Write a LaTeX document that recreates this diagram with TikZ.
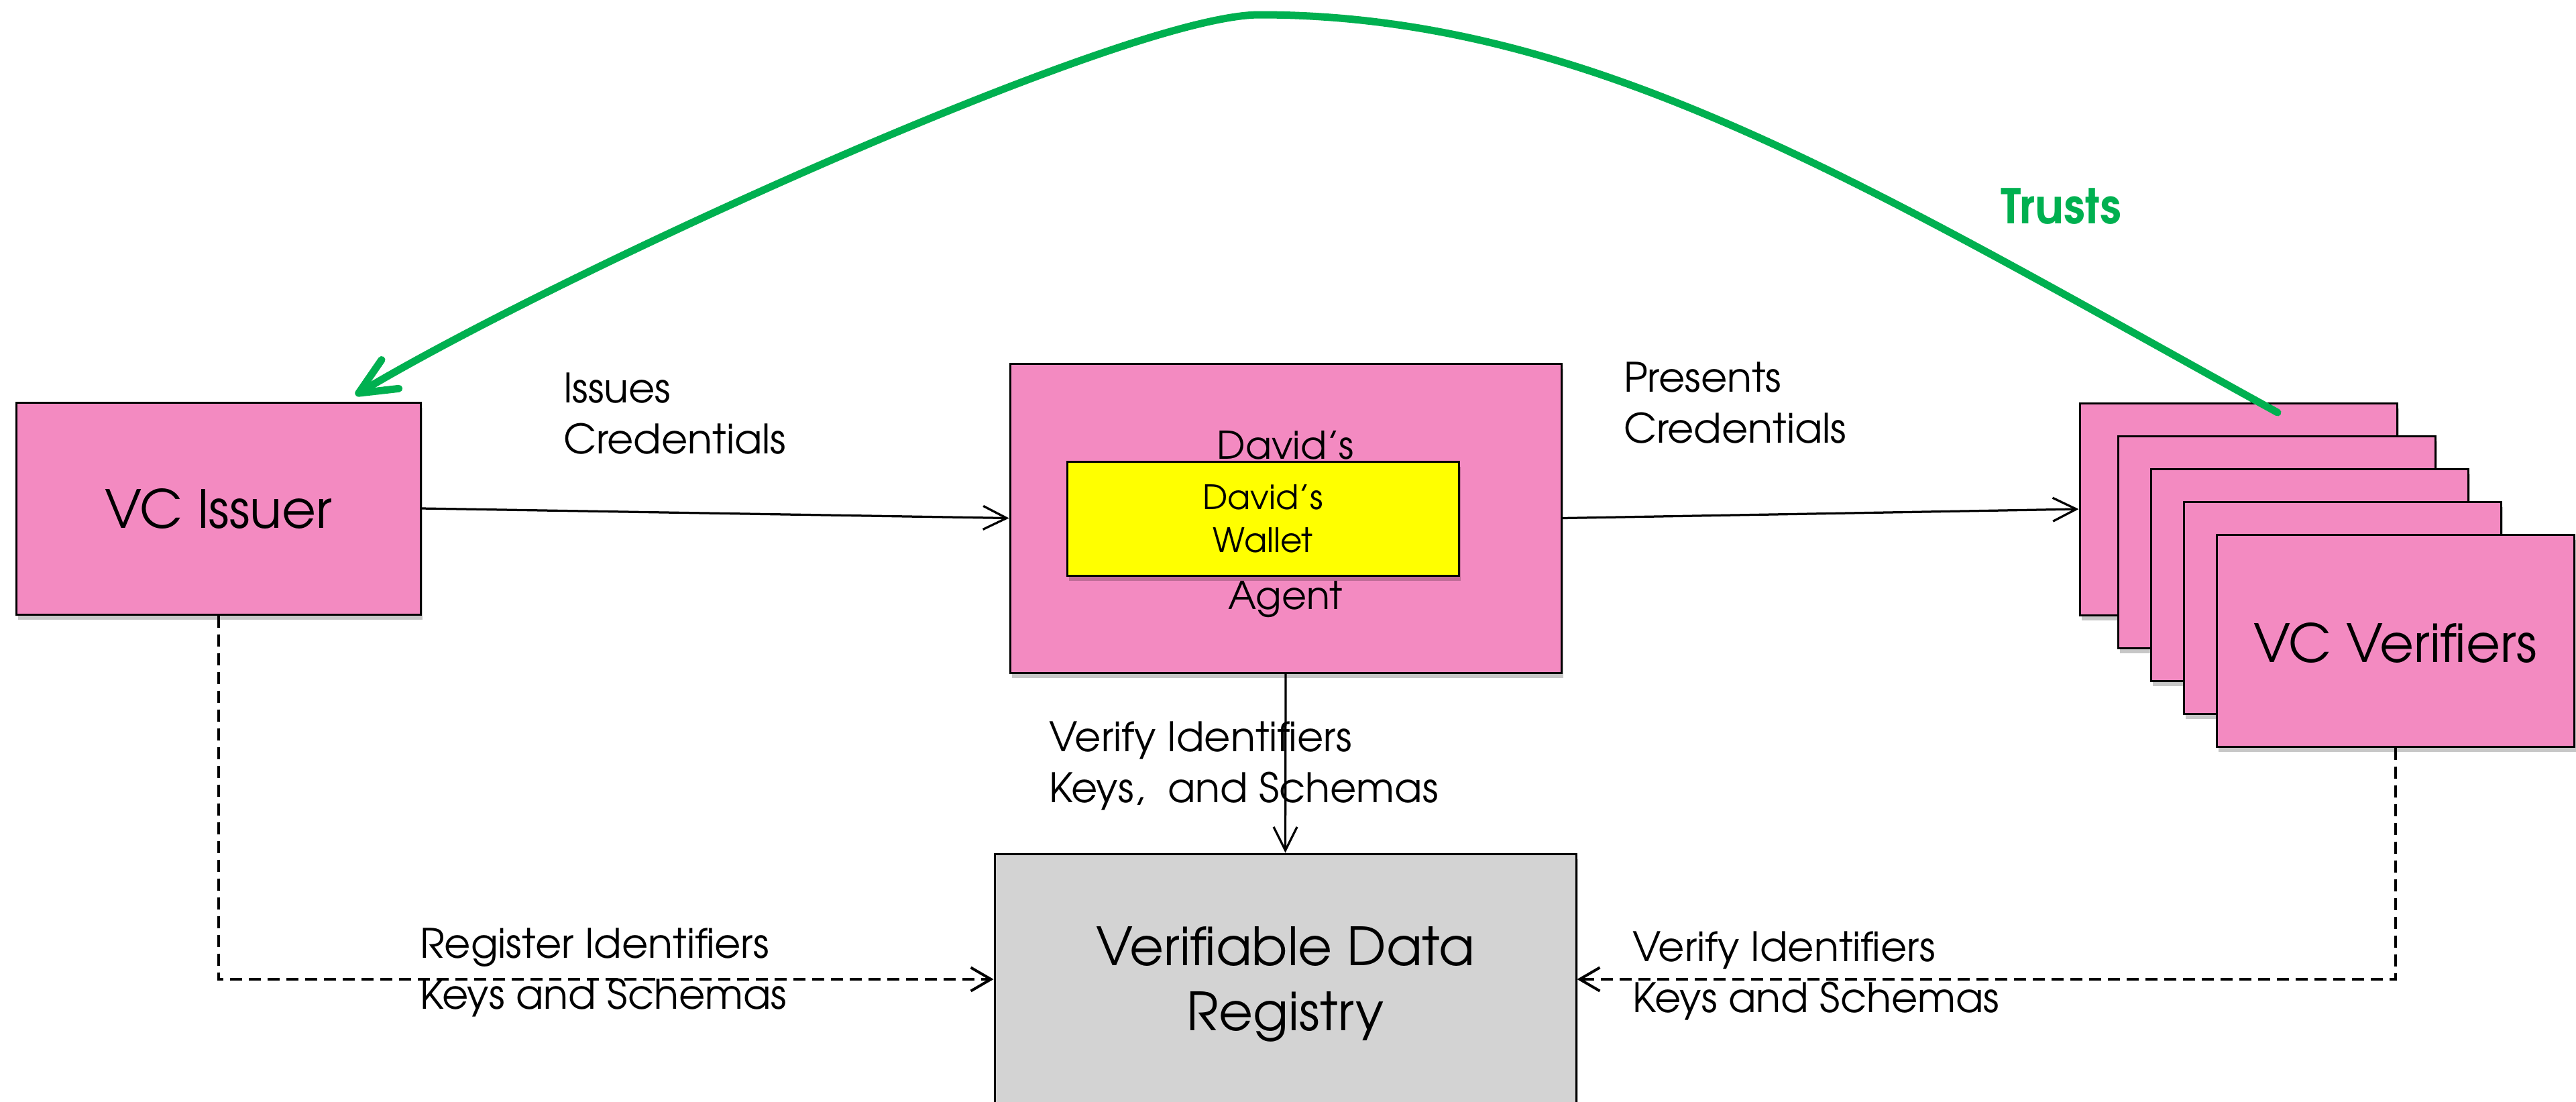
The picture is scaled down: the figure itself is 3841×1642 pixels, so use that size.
\documentclass[tikz,border=0pt]{standalone}
\usepackage{fontspec}
\setmainfont{TeX Gyre Adventor}
\usetikzlibrary{arrows.meta,fit,shadows}

\definecolor{boxpink}{RGB}{243,138,193}
\definecolor{walletyellow}{RGB}{255,255,0}
\definecolor{registrygray}{RGB}{211,211,211}
\definecolor{trustgreen}{RGB}{0,176,80}

\newcommand{\bigtext}{\fontsize{15.7}{19.4}\selectfont}
\newcommand{\labeltext}{\fontsize{12.1}{15.1}\selectfont}
\newcommand{\agenttext}{\fontsize{11.4}{13.7}\selectfont}
\newcommand{\wallettext}{\fontsize{10}{12.8}\selectfont}

\begin{document}
\begin{tikzpicture}[x=0.2pt,y=-0.2pt,
  box/.style={draw=black, line width=0.6pt, inner sep=0pt,
    drop shadow={shadow xshift=0.5pt, shadow yshift=-1.5pt, fill=black, opacity=0.22}},
  pinkbox/.style={box, fill=boxpink},
  boxtext/.style={inner sep=0pt, align=center},
  flow/.style={draw=black, line width=0.65pt, -{Straight Barb[length=7pt,width=7pt]}},
  dflow/.style={draw=black, line width=0.8pt, dash pattern=on 3.6pt off 2pt,
    -{Straight Barb[length=6pt,width=7pt]}},
  trust/.style={draw=trustgreen, line width=2.2pt, line cap=round,
    -{Straight Barb[length=11pt,width=10pt,round]}},
  caption/.style={anchor=north west, inner sep=0pt, align=left, font=\labeltext},
]
% canvas
\useasboundingbox (0,0) rectangle (3841,1642);

% main parties
\node[pinkbox, fit={(24.5,600) (627,916)}] (issuer) {};
\node[boxtext, font=\bigtext] (issuerName) at (issuer.center) {VC Issuer};

\node[pinkbox, fit={(1506,542) (2328,1003)}] (agent) {};
\node[anchor=base, inner sep=0pt, font=\agenttext] (agentName) at (1917,684) {David’s};
\node[anchor=base, inner sep=0pt, font=\agenttext] (agentWord) at (1917,908) {Agent};

\node[box, fill=walletyellow, fit={(1591,688) (2175,858)}] (wallet) {};
\node[boxtext, font=\wallettext] (walletName) at (wallet.center) {David’s\\Wallet};

% stack of verifiers
\node[pinkbox, fit={(3101,601) (3574,917)}] (v1) {};
\node[pinkbox, fit={(3158,650) (3631,966)}] (v2) {};
\node[pinkbox, fit={(3207,699) (3680,1015)}] (v3) {};
\node[pinkbox, fit={(3256,748) (3729,1064)}] (v4) {};
\node[pinkbox, fit={(3305,797) (3838,1113)}] (v5) {};
\node[boxtext, font=\bigtext, yshift=-0.6pt] (verifierName) at (v5.center) {VC Verifiers};

% registry
\node[box, fill=registrygray, fit={(1483,1273) (2350,1647)}] (registry) {};
\node[boxtext, font=\bigtext, yshift=-1.4pt] (registryName) at (registry.center) {Verifiable Data\\Registry};

% credential flow
\draw[flow] (issuer.east) -- (agent.west);
\draw[flow] (agent.east) -- (v1.west);
\draw[flow] (agent.south) -- (registry.north);
\draw[dflow] (issuer.south) |- (registry.west);
\draw[dflow] (v5.south) |- (registry.east);

% captions
\node[caption] (issuesLbl) at (839,555) {Issues\\Credentials};
\node[caption] (presentsLbl) at (2420,539) {Presents\\Credentials};
\node[caption] (agentVerifyLbl) at (1563,1075) {Verify Identifiers\\Keys,~ and Schemas};
\node[caption] (registerLbl) at (625,1383) {Register Identifiers\\Keys and Schemas};
\node[caption] (verifierLbl) at (2433,1388) {Verify Identifiers\\Keys and Schemas};

% trust relation
\coordinate (trustFrom) at (3396,615);
\coordinate (trustTop) at (1878,22);
\coordinate (trustTo) at (530,589);
\draw[trust] (trustFrom) .. controls (2796,285) and (2378,22) .. (trustTop)
  .. controls (1678,22) and (830,409) .. (trustTo);
\node[anchor=base west, inner sep=0pt, text=trustgreen,
  font=\bfseries\fontsize{14.3}{16}\selectfont] (trustsLbl) at (2982,333) {Trusts};
\end{tikzpicture}
\end{document}
